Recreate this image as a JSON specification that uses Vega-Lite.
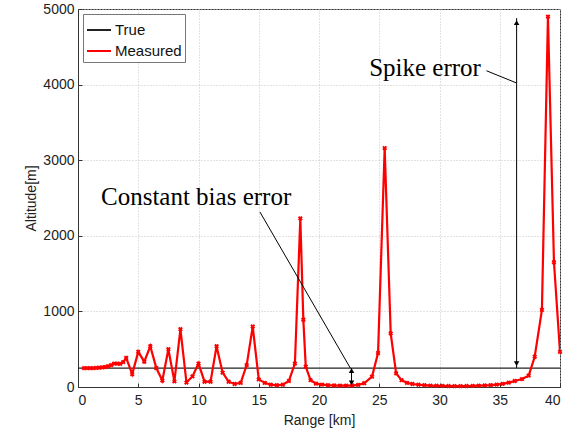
{
  "$schema": "https://vega.github.io/schema/vega-lite/v6.json",
  "width": 482,
  "height": 378,
  "autosize": {"type": "none"},
  "padding": {"left": 78, "top": 9, "right": 18, "bottom": 48},
  "background": "white",
  "config": {
    "view": {"stroke": "#333", "strokeWidth": 1},
    "font": "Liberation Sans",
    "axis": {
      "labelFont": "Liberation Sans", "labelFontSize": 14, "labelColor": "#222",
      "titleFont": "Liberation Sans", "titleFontSize": 14, "titleFontWeight": "normal", "titleColor": "#222",
      "gridColor": "#c4c4c4", "gridDash": [1, 2], "gridWidth": 1,
      "domainColor": "#333", "tickColor": "#333", "tickSize": -4
    }
  },
  "datasets": {
    "truth": [
      {"series": "True", "range": 0, "alt": 250},
      {"series": "True", "range": 40, "alt": 250}
    ],
    "meas": [
      {"series": "Measured", "range": 0.5, "alt": 250},
      {"series": "Measured", "range": 0.75, "alt": 250},
      {"series": "Measured", "range": 1, "alt": 250},
      {"series": "Measured", "range": 1.25, "alt": 250},
      {"series": "Measured", "range": 1.5, "alt": 252},
      {"series": "Measured", "range": 1.75, "alt": 255},
      {"series": "Measured", "range": 2, "alt": 260},
      {"series": "Measured", "range": 2.25, "alt": 265},
      {"series": "Measured", "range": 2.5, "alt": 275},
      {"series": "Measured", "range": 2.75, "alt": 290},
      {"series": "Measured", "range": 3, "alt": 310},
      {"series": "Measured", "range": 3.25, "alt": 310},
      {"series": "Measured", "range": 3.5, "alt": 305},
      {"series": "Measured", "range": 3.75, "alt": 330},
      {"series": "Measured", "range": 4, "alt": 385},
      {"series": "Measured", "range": 4.5, "alt": 170},
      {"series": "Measured", "range": 5, "alt": 465},
      {"series": "Measured", "range": 5.5, "alt": 335},
      {"series": "Measured", "range": 6, "alt": 540},
      {"series": "Measured", "range": 6.5, "alt": 250},
      {"series": "Measured", "range": 7, "alt": 85},
      {"series": "Measured", "range": 7.5, "alt": 500},
      {"series": "Measured", "range": 8, "alt": 75},
      {"series": "Measured", "range": 8.5, "alt": 765},
      {"series": "Measured", "range": 9, "alt": 60},
      {"series": "Measured", "range": 9.5, "alt": 140},
      {"series": "Measured", "range": 10, "alt": 310},
      {"series": "Measured", "range": 10.5, "alt": 70},
      {"series": "Measured", "range": 11, "alt": 70},
      {"series": "Measured", "range": 11.5, "alt": 540},
      {"series": "Measured", "range": 12, "alt": 190},
      {"series": "Measured", "range": 12.5, "alt": 70},
      {"series": "Measured", "range": 13, "alt": 40},
      {"series": "Measured", "range": 13.5, "alt": 55},
      {"series": "Measured", "range": 14, "alt": 290},
      {"series": "Measured", "range": 14.5, "alt": 800},
      {"series": "Measured", "range": 15, "alt": 100},
      {"series": "Measured", "range": 15.5, "alt": 55},
      {"series": "Measured", "range": 16, "alt": 30},
      {"series": "Measured", "range": 16.5, "alt": 25},
      {"series": "Measured", "range": 17, "alt": 30},
      {"series": "Measured", "range": 17.5, "alt": 80},
      {"series": "Measured", "range": 18, "alt": 310},
      {"series": "Measured", "range": 18.45, "alt": 2230},
      {"series": "Measured", "range": 18.7, "alt": 890},
      {"series": "Measured", "range": 18.9, "alt": 270},
      {"series": "Measured", "range": 19.3, "alt": 90},
      {"series": "Measured", "range": 19.75, "alt": 45},
      {"series": "Measured", "range": 20.25, "alt": 32},
      {"series": "Measured", "range": 20.75, "alt": 25},
      {"series": "Measured", "range": 21.25, "alt": 20},
      {"series": "Measured", "range": 21.75, "alt": 18},
      {"series": "Measured", "range": 22.25, "alt": 18},
      {"series": "Measured", "range": 22.75, "alt": 20},
      {"series": "Measured", "range": 23.25, "alt": 28},
      {"series": "Measured", "range": 23.75, "alt": 50},
      {"series": "Measured", "range": 24.4, "alt": 137},
      {"series": "Measured", "range": 24.9, "alt": 450},
      {"series": "Measured", "range": 25.45, "alt": 3160},
      {"series": "Measured", "range": 25.95, "alt": 710},
      {"series": "Measured", "range": 26.4, "alt": 181},
      {"series": "Measured", "range": 26.85, "alt": 90},
      {"series": "Measured", "range": 27.3, "alt": 55},
      {"series": "Measured", "range": 27.75, "alt": 40},
      {"series": "Measured", "range": 28.25, "alt": 30},
      {"series": "Measured", "range": 28.75, "alt": 24},
      {"series": "Measured", "range": 29.25, "alt": 19},
      {"series": "Measured", "range": 29.75, "alt": 16},
      {"series": "Measured", "range": 30.25, "alt": 14},
      {"series": "Measured", "range": 30.75, "alt": 13},
      {"series": "Measured", "range": 31.25, "alt": 12},
      {"series": "Measured", "range": 31.75, "alt": 12},
      {"series": "Measured", "range": 32.25, "alt": 13},
      {"series": "Measured", "range": 32.75, "alt": 14},
      {"series": "Measured", "range": 33.25, "alt": 17},
      {"series": "Measured", "range": 33.75, "alt": 20},
      {"series": "Measured", "range": 34.25, "alt": 25},
      {"series": "Measured", "range": 34.75, "alt": 32},
      {"series": "Measured", "range": 35.25, "alt": 42},
      {"series": "Measured", "range": 35.75, "alt": 58},
      {"series": "Measured", "range": 36.25, "alt": 80},
      {"series": "Measured", "range": 36.85, "alt": 105},
      {"series": "Measured", "range": 37.4, "alt": 150},
      {"series": "Measured", "range": 37.9, "alt": 400},
      {"series": "Measured", "range": 38.5, "alt": 1020},
      {"series": "Measured", "range": 39, "alt": 4900},
      {"series": "Measured", "range": 39.5, "alt": 1650},
      {"series": "Measured", "range": 40, "alt": 465}
    ],
    "rules": [
      {"x": 36.4, "y": 250, "x2": 36.4, "y2": 4880},
      {"x": 33.9, "y": 4183, "x2": 36.4, "y2": 4021},
      {"x": 15.1, "y": 2315, "x2": 22.6, "y2": 250},
      {"x": 22.7, "y": 250, "x2": 22.7, "y2": 20}
    ],
    "heads": [
      {"x": 36.4, "y": 4820, "dir": "up"},
      {"x": 36.4, "y": 310, "dir": "down"},
      {"x": 22.7, "y": 215, "dir": "up"},
      {"x": 22.7, "y": 55, "dir": "down"}
    ],
    "texts": [
      {"x": 9.8, "y": 2513, "label": "Constant bias error"},
      {"x": 28.8, "y": 4220, "label": "Spike error"}
    ]
  },
  "layer": [
    {
      "data": {"name": "truth"},
      "mark": {"type": "line", "strokeWidth": 1.3, "clip": true},
      "encoding": {
        "x": {"field": "range", "type": "quantitative", "scale": {"domain": [0, 40], "nice": false},
              "axis": {"values": [0, 5, 10, 15, 20, 25, 30, 35, 40], "title": "Range [km]", "titlePadding": 6, "labelPadding": 10}},
        "y": {"field": "alt", "type": "quantitative", "scale": {"domain": [0, 5000], "nice": false},
              "axis": {"values": [0, 500, 1000, 1500, 2000, 2500, 3000, 3500, 4000, 4500, 5000], "format": "d", "title": "Altitude[m]", "titlePadding": 4, "labelPadding": 8}},
        "color": {"field": "series", "type": "nominal",
                  "scale": {"domain": ["True", "Measured"], "range": ["#222222", "#ff0000"]},
                  "legend": {"title": null, "orient": "top-left", "offset": 5, "symbolType": "stroke", "symbolSize": 576, "symbolStrokeWidth": 2,
                             "labelFont": "Liberation Sans", "labelFontSize": 15, "labelColor": "#111", "strokeColor": "#777", "fillColor": "white",
                             "padding": 3, "rowPadding": 0, "labelOffset": 3}}
      }
    },
    {
      "data": {"name": "meas"},
      "mark": {"type": "line", "strokeWidth": 2.2, "clip": true},
      "encoding": {
        "x": {"field": "range", "type": "quantitative"},
        "y": {"field": "alt", "type": "quantitative"},
        "color": {"field": "series", "type": "nominal"},
        "order": {"field": "range", "type": "quantitative"}
      }
    },
    {
      "data": {"name": "meas"},
      "mark": {"type": "point", "shape": "cross", "angle": 45, "size": 24, "filled": true, "color": "#ff0000", "opacity": 1},
      "encoding": {
        "x": {"field": "range", "type": "quantitative"},
        "y": {"field": "alt", "type": "quantitative"}
      }
    },
    {
      "data": {"name": "rules"},
      "mark": {"type": "rule", "color": "black", "strokeWidth": 1},
      "encoding": {
        "x": {"field": "x", "type": "quantitative"},
        "y": {"field": "y", "type": "quantitative"},
        "x2": {"field": "x2"},
        "y2": {"field": "y2"}
      }
    },
    {
      "data": {"name": "heads"},
      "mark": {"type": "point", "filled": true, "color": "black", "size": 30, "opacity": 1},
      "encoding": {
        "x": {"field": "x", "type": "quantitative"},
        "y": {"field": "y", "type": "quantitative"},
        "shape": {"field": "dir", "type": "nominal", "scale": {"domain": ["up", "down"], "range": ["triangle-up", "triangle-down"]}, "legend": null}
      }
    },
    {
      "data": {"name": "texts"},
      "mark": {"type": "text", "font": "Liberation Serif", "fontSize": 25, "color": "black", "align": "center", "baseline": "middle"},
      "encoding": {
        "x": {"field": "x", "type": "quantitative"},
        "y": {"field": "y", "type": "quantitative"},
        "text": {"field": "label"}
      }
    }
  ]
}
